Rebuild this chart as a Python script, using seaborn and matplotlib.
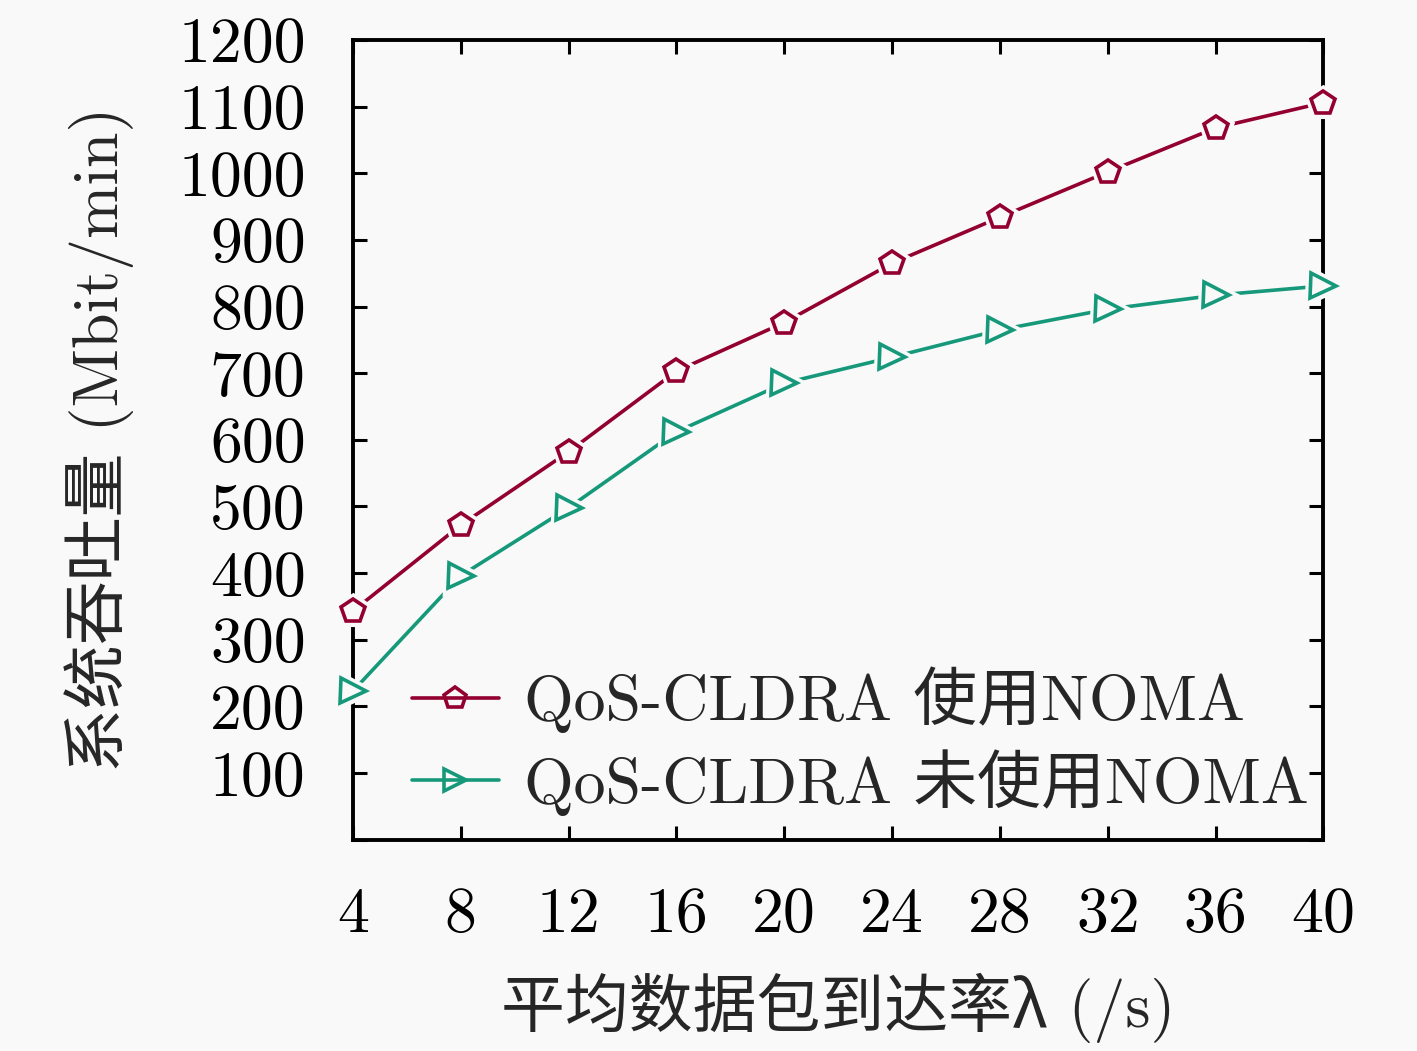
import numpy as np
import pandas as pd
import matplotlib
matplotlib.use('Agg')
import matplotlib.pyplot as plt
import seaborn as sns

# data
arrival_rate = [4, 8, 12, 16, 20, 24, 28, 32, 36, 40]
with_noma = [343, 472, 582, 703, 776, 865, 934, 1002, 1068, 1106]
without_noma = [223, 396, 498, 612, 685, 724, 765, 796, 817, 831]
series_names = ['QoS-CLDRA 使用NOMA', 'QoS-CLDRA 未使用NOMA']
x_ticks = list(range(4, 41, 4))
y_ticks = list(range(0, 1201, 100))
y_labels = [''] + [str(v) for v in y_ticks[1:]]

df = pd.DataFrame({
    'rate': arrival_rate * 2,
    'throughput': with_noma + without_noma,
    'series': [series_names[0]] * 10 + [series_names[1]] * 10,
})

sns.set_theme(style='ticks')
plt.rcParams['font.family'] = ['cmr10', 'Noto Sans CJK SC', 'DejaVu Sans']

bg = '#f9f9f9'
colors = ['#930030', '#16997a']
markers = ['p', '>']
fs = 46
lw = 2.6

fig = plt.figure(figsize=(14.17, 10.51), dpi=100, facecolor=bg)
ax = fig.add_axes([0.249, 0.201, 0.685, 0.761])
ax.set_facecolor(bg)

sns.lineplot(data=df, x='rate', y='throughput', hue='series',
             palette=colors, linewidth=lw, legend=False, ax=ax)

for name, col, mk in zip(series_names, colors, markers):
    sub = df[df['series'] == name]
    # background halo so the line stops short of each marker
    ax.plot(sub['rate'], sub['throughput'], ls='none', marker=mk, ms=18,
            mfc=bg, mec=bg, mew=8, clip_on=False, zorder=3)
    ax.plot(sub['rate'], sub['throughput'], ls='none', marker=mk, ms=18,
            mfc='none', mec=col, mew=lw, clip_on=False, zorder=4)

# legend handles
handles = [plt.Line2D([], [], color=c, lw=lw, marker=m, ms=16, mfc='none',
                      mec=c, mew=lw) for c, m in zip(colors, markers)]
ax.legend(handles, series_names, loc='lower right',
          bbox_to_anchor=(0.985, 0.03), frameon=False, fontsize=fs,
          handlelength=1.35, handletextpad=0.4, labelspacing=0.25,
          borderpad=0, borderaxespad=0)

ax.set_xlim(4, 40)
ax.set_ylim(0, 1200)
ax.set_xticks(x_ticks)
ax.set_yticks(y_ticks)
ax.set_yticklabels(y_labels)
ax.tick_params(direction='in', length=10, width=2.2, labelsize=fs,
               pad=34, top=True, right=True, colors='black')
for sp in ax.spines.values():
    sp.set_linewidth(2.8)
    sp.set_color('black')

ax.set_xlabel('平均数据包到达率λ (/s)', fontsize=fs, labelpad=20)
ax.set_ylabel('系统吞吐量 (Mbit/min)', fontsize=fs, labelpad=32)

fig.savefig('out.png', dpi=100, facecolor=bg)
